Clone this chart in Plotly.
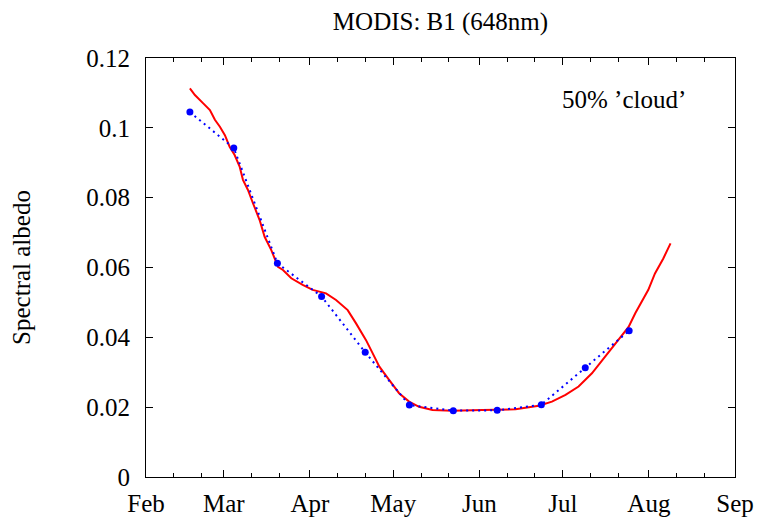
import plotly.graph_objects as go

# Modelled (red) curve: day of year and spectral albedo
model_day = [47.8, 49.6, 52.6, 55.0, 56.8, 58.6, 60.4, 62.1, 63.9, 65.7, 66.9, 68.7, 70.5,
             72.9, 74.7, 77.1, 79.5, 81.3, 84.3, 88.4, 92.0, 96.8, 100.4, 104.6, 107.6,
             111.2, 113.6, 116.0, 119.5, 123.1, 126.7, 130.3, 135.1, 142.3, 153.1, 165.0,
             173.4, 178.1, 183.0, 187.7, 192.5, 197.3, 202.1, 205.7, 208.1, 210.4, 212.8,
             215.2, 218.2, 220.8]
model_albedo = [0.1113, 0.1094, 0.1070, 0.1051, 0.1023, 0.1003, 0.0979, 0.0946, 0.0922,
                0.0889, 0.0851, 0.0822, 0.0784, 0.0736, 0.0688, 0.0650, 0.0602, 0.0593,
                0.0569, 0.0550, 0.0536, 0.0526, 0.0507, 0.0478, 0.0440, 0.0392, 0.0354,
                0.0316, 0.0278, 0.0240, 0.0216, 0.0201, 0.0192, 0.0190, 0.0192, 0.0194,
                0.0204, 0.0216, 0.0235, 0.0259, 0.0297, 0.0345, 0.0392, 0.0430, 0.0469,
                0.0502, 0.0536, 0.0583, 0.0626, 0.0669]

# MODIS 16-day observations (blue)
obs_day = [47.8, 63.6, 79.3, 95.2, 110.9, 126.8, 142.6, 158.4, 174.3, 190.1, 205.9]
obs_albedo = [0.1045, 0.0942, 0.0612, 0.0517, 0.0357, 0.0206, 0.0190, 0.0191, 0.0207,
              0.0313, 0.0419]

# Axis ticks
month_days = [32, 60, 91, 121, 152, 182, 213, 244]
month_labels = ["Feb", "Mar", "Apr", "May", "Jun", "Jul", "Aug", "Sep"]
minor_days = [42, 52, 70, 80, 101, 111, 131, 141, 162, 172, 192, 202, 223, 233]
y_ticks = [0, 0.02, 0.04, 0.06, 0.08, 0.1, 0.12]

FONT = "Liberation Serif"

fig = go.Figure()
fig.add_trace(go.Scatter(x=model_day, y=model_albedo, mode="lines",
                         line=dict(color="#ff0000", width=2), showlegend=False))
fig.add_trace(go.Scatter(x=obs_day, y=obs_albedo, mode="lines+markers",
                         line=dict(color="#0000ff", width=2, dash="2px,4px"),
                         marker=dict(color="#0000ff", size=7), showlegend=False))

fig.update_layout(
    template="none",
    width=758, height=519,
    margin=dict(l=146, r=23, t=58, b=42, autoexpand=False),
    paper_bgcolor="white", plot_bgcolor="white",
    font=dict(family=FONT, size=25, color="black"),
    title=dict(text="MODIS: B1 (648nm)", x=0.5, xref="paper", y=1 - 21 / 519,
               yref="container", xanchor="center", yanchor="middle",
               font=dict(family=FONT, size=25, color="black")),
    annotations=[dict(text="50% ’cloud’", xref="paper", yref="paper",
                      x=0.8115, y=0.8998, xanchor="center", yanchor="middle",
                      showarrow=False, font=dict(family=FONT, size=25, color="black"))],
)
fig.update_xaxes(range=[32, 244], tickmode="array", tickvals=month_days, ticktext=month_labels,
                 ticks="inside", ticklen=7, tickwidth=1, tickcolor="black",
                 tickfont=dict(family=FONT, size=25, color="black"),
                 minor=dict(tickmode="array", tickvals=minor_days, ticks="inside", ticklen=4,
                            tickwidth=1, tickcolor="black", showgrid=False),
                 showline=True, linecolor="black", linewidth=1, mirror="ticks",
                 showgrid=False, zeroline=False, automargin=False, ticklabelstandoff=4)
fig.update_yaxes(range=[0, 0.12], tickmode="array", tickvals=y_ticks,
                 ticks="inside", ticklen=7, tickwidth=1, tickcolor="black",
                 tickfont=dict(family=FONT, size=25, color="black"),
                 showline=True, linecolor="black", linewidth=1, mirror="ticks",
                 showgrid=False, zeroline=False, automargin=False, ticklabelstandoff=10,
                 title=dict(text="Spectral albedo", standoff=48,
                            font=dict(family=FONT, size=25, color="black")))

fig.write_html("out.html", config={"displayModeBar": False},
               post_script="document.body.style.margin='0px';")
